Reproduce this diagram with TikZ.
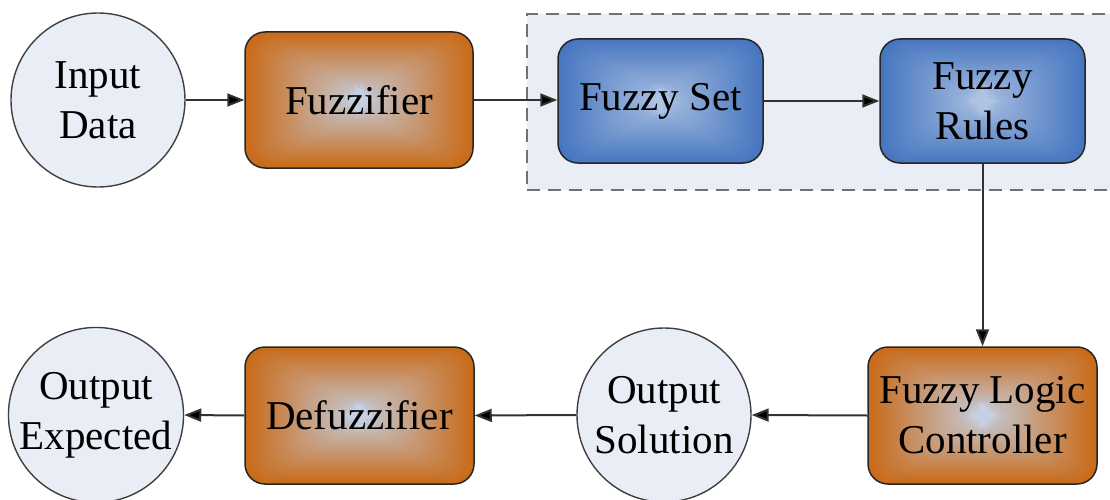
\documentclass[tikz,border=0pt]{standalone}
\usepackage{fontspec}
\setmainfont{Liberation Serif}
\usetikzlibrary{arrows.meta,calc}

\definecolor{orangeedge}{RGB}{201,106,24}
\definecolor{orangecore}{RGB}{196,212,234}
\definecolor{blueedge}{RGB}{70,118,192}
\definecolor{bluecore}{RGB}{178,198,228}
\definecolor{discfill}{RGB}{232,237,246}
\definecolor{groupfill}{RGB}{233,237,245}
\definecolor{groupline}{RGB}{112,112,112}
\definecolor{wire}{RGB}{50,50,50}

\tikzset{
  % rectangular gradient: nested rectangles blending from core to edge colour
  rectgrad/.style 2 args={path picture={
    \foreach \k in {60,59,...,1}{
      \pgfmathsetmacro\pc{100*(\k/60)^0.9}
      \fill[#1!\pc!#2]
        ($(path picture bounding box.center)!\k/60!(path picture bounding box.south west)$)
        rectangle
        ($(path picture bounding box.center)!\k/60!(path picture bounding box.north east)$);
    }}},
  box/.style={draw=black!85, line width=1.5pt, rounded corners=20pt,
    align=center, inner sep=0pt, text=black,
    font=\fontsize{41}{50}\selectfont},
  orangebox/.style={box, rectgrad={orangeedge}{orangecore}},
  bluebox/.style={box, rectgrad={blueedge}{bluecore}},
  disc/.style={circle, draw=black!75, line width=1.4pt, fill=discfill,
    minimum size=174pt, inner sep=0pt, align=center, text=black,
    font=\fontsize{41}{50}\selectfont},
  arr/.style={draw=wire, line width=2pt,
    -{Triangle[length=17pt,width=13pt,fill=black]}},
}

\begin{document}
\begin{tikzpicture}[x=1pt,y=-1pt]
  \useasboundingbox (0,0) rectangle (1110,500);

  % dashed group around the fuzzy set and rules
  \node[draw=groupline, fill=groupfill, line width=2.4pt,
        dash pattern=on 13pt off 8pt, minimum width=600pt, minimum height=176pt,
        anchor=north west, inner sep=0pt] (group) at (526,13) {};

  % top row
  \node[disc] (in) at (98,100) {Input\\Data};
  \node[orangebox, minimum width=228pt, minimum height=136pt] (fuzz) at (359,100) {Fuzzifier};
  \node[bluebox, minimum width=205pt, minimum height=124pt] (fset) at (660.5,101) {Fuzzy Set};
  \node[bluebox, minimum width=205pt, minimum height=124pt] (frules) at (982.5,101) {Fuzzy\\Rules};

  % bottom row
  \node[orangebox, minimum width=229pt, minimum height=137pt] (flc) at (982.5,415.5) {Fuzzy Logic\\Controller};
  \node[disc] (osol) at (664,415) {Output\\Solution};
  \node[orangebox, minimum width=229pt, minimum height=137pt] (defuzz) at (359.5,415.5) {Defuzzifier};
  \node[disc] (oexp) at (96,415) {Output\\Expected};

  % connectors
  \draw[arr] (in.east |- fuzz.west) -- (fuzz.west);
  \draw[arr] (fuzz.east) -- (fuzz.east -| fset.west);
  \draw[arr] (fset.east) -- (frules.west);
  \draw[arr] (frules.south) -- (flc.north);
  \draw[arr] (flc.west) -- (osol.east);
  \draw[arr] (osol.west) -- (defuzz.east);
  \draw[arr] (defuzz.west) -- (oexp.east);
\end{tikzpicture}
\end{document}
